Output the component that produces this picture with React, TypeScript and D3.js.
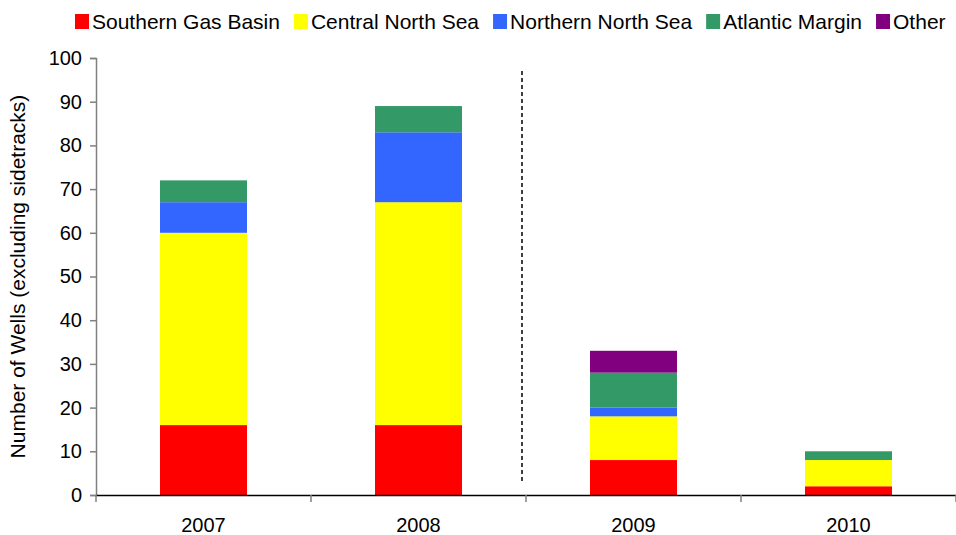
import React, { useEffect, useRef } from "react";
import * as d3 from "d3";

// Wells drilled per year, split by region (stack order bottom → top)
const years = ["2007", "2008", "2009", "2010"];
const regions = ["Southern Gas Basin", "Central North Sea", "Northern North Sea", "Atlantic Margin", "Other"];
const southernGasBasin = [16, 16, 8, 2];
const centralNorthSea = [44, 51, 10, 6];
const northernNorthSea = [7, 16, 2, 0];
const atlanticMargin = [5, 6, 8, 2];
const other = [0, 0, 5, 0];
const regionColors = ["#FF0000", "#FFFF00", "#3366FF", "#339966", "#800080"];
const yTicks = [0, 10, 20, 30, 40, 50, 60, 70, 80, 90, 100];
// Dashed divider between actual and forecast years, in data units
const dividerTop = 97;
const dividerBottom = 3;

const W = 956;
const H = 535;
const FONT = "'Liberation Sans', Arial, sans-serif";

export default function App() {
  const ref = useRef<SVGSVGElement | null>(null);

  useEffect(() => {
    const svg = d3.select(ref.current);
    svg.selectAll("*").remove();

    const left = 96, right = 956, top = 58, bottom = 495;
    const x = d3.scaleBand<string>().domain(years).range([left, right]).paddingInner(0).paddingOuter(0);
    const y = d3.scaleLinear().domain([0, 100]).range([bottom, top]);
    const barW = 87;

    const series = [southernGasBasin, centralNorthSea, northernNorthSea, atlanticMargin, other];
    const rows = years.map((yr, i) => {
      const r: Record<string, any> = { year: yr };
      regions.forEach((k, j) => (r[k] = series[j][i]));
      return r;
    });
    const stacked = d3.stack<Record<string, any>>().keys(regions)(rows);

    // Bars
    const g = svg.append("g");
    stacked.forEach((layer, j) => {
      g.selectAll(null)
        .data(layer.filter((d) => d[1] - d[0] > 0))
        .enter()
        .append("rect")
        .attr("x", (d) => (x(d.data.year) as number) + x.bandwidth() / 2 - barW / 2)
        .attr("width", barW)
        .attr("y", (d) => y(d[1]))
        .attr("height", (d) => y(d[0]) - y(d[1]))
        .attr("fill", regionColors[j]);
    });

    // Y axis
    const yAxis = svg.append("g").attr("transform", `translate(${left},0)`)
      .call(d3.axisLeft(y).tickValues(yTicks).tickSize(6).tickPadding(8));
    yAxis.select(".domain").attr("stroke", "#808080").attr("stroke-width", 1.5);
    yAxis.selectAll(".tick line").attr("stroke", "#808080").attr("stroke-width", 1.5);
    yAxis.selectAll(".tick text").attr("font-family", FONT).attr("font-size", 20).attr("fill", "#000");

    // X axis
    const xAxis = svg.append("g").attr("transform", `translate(0,${bottom})`)
      .call(d3.axisBottom(x).tickSize(0).tickPadding(23));
    xAxis.select(".domain").attr("stroke", "#000").attr("stroke-width", 1.5);
    xAxis.selectAll(".tick text").attr("font-family", FONT).attr("font-size", 20).attr("fill", "#000");
    const bounds = years.map((yr) => x(yr) as number);
    svg.append("g").selectAll("line").data(bounds.concat([right])).enter().append("line")
      .attr("x1", (d) => d).attr("x2", (d) => d)
      .attr("y1", bottom).attr("y2", bottom + 7)
      .attr("stroke", "#808080").attr("stroke-width", 1.5);

    // Divider
    const dx = (x("2009") as number) - 4;
    svg.append("line")
      .attr("x1", dx).attr("x2", dx)
      .attr("y1", y(dividerTop)).attr("y2", y(dividerBottom))
      .attr("stroke", "#000").attr("stroke-width", 1.5).attr("stroke-dasharray", "4,3");

    // Y axis title
    svg.append("text")
      .attr("transform", `translate(25,${(top + bottom) / 2}) rotate(-90)`)
      .attr("text-anchor", "middle")
      .attr("font-family", FONT).attr("font-size", 21)
      .text("Number of Wells (excluding sidetracks)");

    // Legend
    const lg = svg.append("g");
    let cx = 75;
    regions.forEach((name, j) => {
      lg.append("rect").attr("x", cx).attr("y", 14).attr("width", 14).attr("height", 15).attr("fill", regionColors[j]);
      const t = lg.append("text").attr("x", cx + 17).attr("y", 29)
        .attr("font-family", FONT).attr("font-size", 21).text(name);
      const w = (t.node() as SVGTextElement).getComputedTextLength();
      cx += 17 + w + 14;
    });
  }, []);

  return (
    <svg ref={ref} width={W} height={H}
      style={{ position: "absolute", left: 0, top: 0, background: "#fff", display: "block" }} />
  );
}
